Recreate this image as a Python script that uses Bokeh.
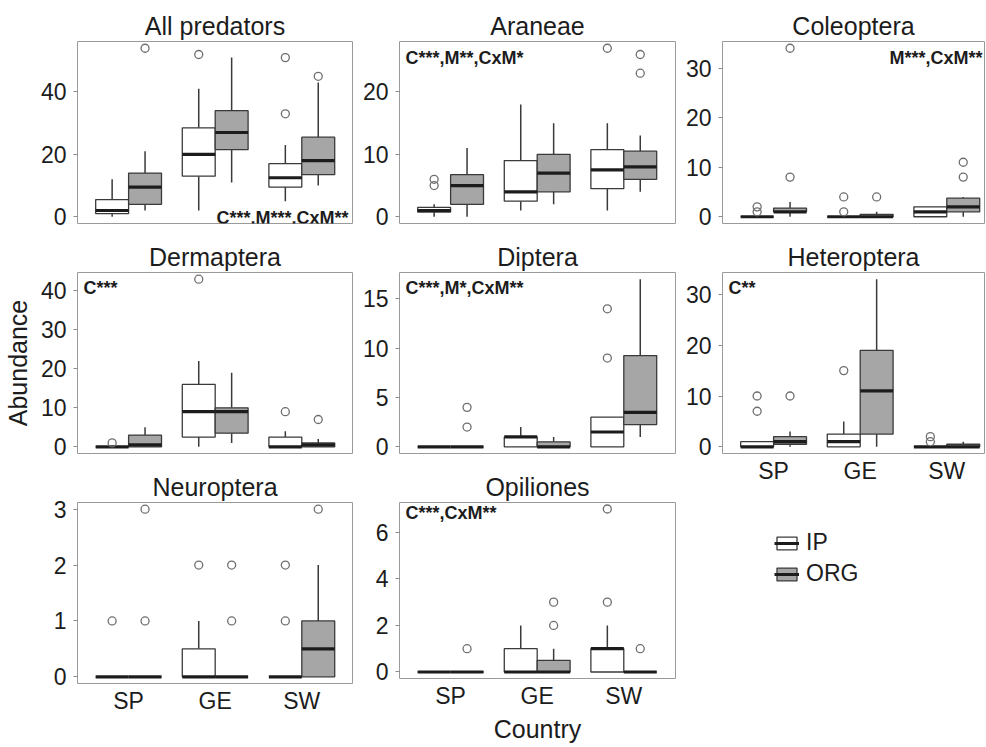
from bokeh.plotting import figure
from bokeh.models import ColumnDataSource, Range1d, FixedTicker, Label, Legend, LegendItem
from bokeh.layouts import row, column
from bokeh.embed import file_html
from bokeh.resources import INLINE

# ---------------- data ----------------
countries = ["SP", "GE", "SW"]
treatments = ["IP", "ORG"]
treatment_colors = ["#ffffff", "#a6a6a6"]
# order of boxes: SP-IP, SP-ORG, GE-IP, GE-ORG, SW-IP, SW-ORG

allpred_lo = [0, 2, 2, 11, 5, 10]
allpred_q1 = [1, 4, 13, 21.5, 9.5, 13.5]
allpred_med = [2, 9.5, 20, 27, 12.5, 18]
allpred_q3 = [5.5, 14, 28.5, 34, 17, 25.5]
allpred_hi = [12, 21, 41, 51, 23, 43]
allpred_out = [[], [54], [52], [], [51, 33], [45]]

aran_lo = [0, 0, 1, 2, 1, 4]
aran_q1 = [0.75, 2, 2.5, 4, 4.5, 6]
aran_med = [1, 5, 4, 7, 7.5, 8]
aran_q3 = [1.5, 6.75, 9, 10, 10.75, 10.5]
aran_hi = [2, 11, 18, 15, 15, 13]
aran_out = [[5, 6], [], [], [], [27], [26, 23]]

coleo_lo = [0, 0, 0, 0, 0, 0]
coleo_q1 = [0, 1, 0, 0, 0, 1]
coleo_med = [0, 1, 0, 0, 1, 2]
coleo_q3 = [0, 1.75, 0, 0.5, 2, 3.75]
coleo_hi = [0, 3, 0, 1, 2, 4]
coleo_out = [[1, 2], [8, 34], [1, 4], [4], [], [8, 11]]

derm_lo = [0, 0, 0, 1, 0, 0]
derm_q1 = [0, 0, 2.5, 3.5, 0, 0]
derm_med = [0, 0.5, 9, 9, 0, 0.5]
derm_q3 = [0, 3, 16, 10, 2.5, 1]
derm_hi = [0, 5, 22, 19, 4, 2]
derm_out = [[1], [], [43], [], [9], [7]]

dipt_lo = [0, 0, 0, 0, 0, 1]
dipt_q1 = [0, 0, 0, 0, 0, 2.25]
dipt_med = [0, 0, 1, 0, 1.5, 3.5]
dipt_q3 = [0, 0, 1, 0.5, 3, 9.25]
dipt_hi = [0, 0, 2, 1, 3, 17]
dipt_out = [[], [2, 4], [], [], [9, 14], []]

hete_lo = [0, 0, 0, 0, 0, 0]
hete_q1 = [0, 0.5, 0, 2.5, 0, 0]
hete_med = [0, 1, 1, 11, 0, 0]
hete_q3 = [1, 2, 2.5, 19, 0, 0.5]
hete_hi = [1, 3, 5, 33, 0, 1]
hete_out = [[7, 10], [10], [15], [], [1, 2], []]

neur_lo = [0, 0, 0, 0, 0, 0]
neur_q1 = [0, 0, 0, 0, 0, 0]
neur_med = [0, 0, 0, 0, 0, 0.5]
neur_q3 = [0, 0, 0.5, 0, 0, 1]
neur_hi = [0, 0, 1, 0, 0, 2]
neur_out = [[1], [1, 3], [2], [1, 2], [1, 2], [3]]

opil_lo = [0, 0, 0, 0, 0, 0]
opil_q1 = [0, 0, 0, 0, 0, 0]
opil_med = [0, 0, 0, 0, 1, 0]
opil_q3 = [0, 0, 1, 0.5, 1, 0]
opil_hi = [0, 0, 2, 1, 2, 0]
opil_out = [[], [1], [], [2, 3], [3, 7], [1]]

panels = {
    "allpred": dict(title="All predators", lo=allpred_lo, q1=allpred_q1, med=allpred_med, q3=allpred_q3,
                    hi=allpred_hi, out=allpred_out, ticks=[0, 20, 40], note="C***,M***,CxM**", pos="br"),
    "aran": dict(title="Araneae", lo=aran_lo, q1=aran_q1, med=aran_med, q3=aran_q3,
                 hi=aran_hi, out=aran_out, ticks=[0, 10, 20], note="C***,M**,CxM*", pos="tl"),
    "coleo": dict(title="Coleoptera", lo=coleo_lo, q1=coleo_q1, med=coleo_med, q3=coleo_q3,
                  hi=coleo_hi, out=coleo_out, ticks=[0, 10, 20, 30], note="M***,CxM**", pos="tr"),
    "derm": dict(title="Dermaptera", lo=derm_lo, q1=derm_q1, med=derm_med, q3=derm_q3,
                 hi=derm_hi, out=derm_out, ticks=[0, 10, 20, 30, 40], note="C***", pos="tl"),
    "dipt": dict(title="Diptera", lo=dipt_lo, q1=dipt_q1, med=dipt_med, q3=dipt_q3,
                 hi=dipt_hi, out=dipt_out, ticks=[0, 5, 10, 15], note="C***,M*,CxM**", pos="tl"),
    "hete": dict(title="Heteroptera", lo=hete_lo, q1=hete_q1, med=hete_med, q3=hete_q3,
                 hi=hete_hi, out=hete_out, ticks=[0, 10, 20, 30], note="C**", pos="tl"),
    "neur": dict(title="Neuroptera", lo=neur_lo, q1=neur_q1, med=neur_med, q3=neur_q3,
                 hi=neur_hi, out=neur_out, ticks=[0, 1, 2, 3], note=None, pos=None),
    "opil": dict(title="Opiliones", lo=opil_lo, q1=opil_q1, med=opil_med, q3=opil_q3,
                 hi=opil_hi, out=opil_out, ticks=[0, 2, 4, 6], note="C***,CxM**", pos="tl"),
}

# ---------------- style ----------------
FONT = "Liberation Sans"
TXT = "#1c1c1c"
BOXLINE = "#3a3a3a"
MEDLINE = "#1c1c1c"
FRAME_H = 182
BOX_W = 0.38
X_START = 0.41
PX_PER_UNIT = 86.6


def make_panel(spec, left, right, top, bottom, frame_w, show_x=False, xlabel=None, ylabel=None):
    xs, fills = [], []
    for ci in range(len(countries)):
        for ti in range(len(treatments)):
            xs.append(ci + 1 + (ti - 0.5) * BOX_W)
            fills.append(treatment_colors[ti])
    src = ColumnDataSource(dict(
        x=xs, left=[x - BOX_W / 2 for x in xs], right=[x + BOX_W / 2 for x in xs],
        lo=spec["lo"], q1=spec["q1"], med=spec["med"], q3=spec["q3"], hi=spec["hi"], fill=fills))
    ox, oy = [], []
    for x, outs in zip(xs, spec["out"]):
        for v in outs:
            ox.append(x)
            oy.append(v)
    ymax = max(spec["hi"] + oy)
    ymin = min(spec["lo"])
    span = ymax - ymin
    p = figure(width=left + frame_w + right, height=top + FRAME_H + bottom,
               x_range=Range1d(X_START, X_START + frame_w / PX_PER_UNIT),
               y_range=Range1d(ymin - 0.04 * span, ymax + 0.04 * span),
               output_backend="svg", toolbar_location=None,
               x_axis_location="below" if show_x else None,
               min_border_left=left, min_border_right=right,
               min_border_top=top, min_border_bottom=bottom,
               title=spec["title"])
    p.grid.visible = False
    p.outline_line_color = "#9a9a9a"
    p.outline_line_width = 1
    p.background_fill_color = "white"
    p.border_fill_color = "white"
    p.title.text_font = FONT
    p.title.text_font_size = "25px"
    p.title.text_font_style = "normal"
    p.title.text_color = TXT
    p.title.align = "center"
    p.title.standoff = 4

    p.segment(x0="x", y0="q3", x1="x", y1="hi", source=src, line_color=BOXLINE, line_width=1.5)
    p.segment(x0="x", y0="q1", x1="x", y1="lo", source=src, line_color=BOXLINE, line_width=1.5)
    p.quad(left="left", right="right", bottom="q1", top="q3", source=src,
           fill_color="fill", line_color=BOXLINE, line_width=1.3)
    p.segment(x0="left", y0="med", x1="right", y1="med", source=src,
              line_color=MEDLINE, line_width=3.2, line_cap="butt")
    p.scatter(ox, oy, marker="circle", size=8, fill_color=None, line_color="#6e6e6e", line_width=1.3)

    ya = p.yaxis[0]
    ya.ticker = FixedTicker(ticks=spec["ticks"])
    ya.axis_line_color = None
    ya.major_tick_out = 4
    ya.major_tick_in = 0
    ya.major_tick_line_color = "#8c8c8c"
    ya.minor_tick_line_color = None
    ya.major_label_text_font = FONT
    ya.major_label_text_font_size = "23px"
    ya.major_label_text_color = TXT
    ya.major_label_standoff = 7
    if ylabel:
        ya.axis_label = ylabel
        ya.axis_label_text_font = FONT
        ya.axis_label_text_font_size = "25px"
        ya.axis_label_text_font_style = "normal"
        ya.axis_label_text_color = TXT
        ya.axis_label_standoff = 6
    if show_x:
        xa = p.xaxis[0]
        xa.ticker = FixedTicker(ticks=[i + 1 for i in range(len(countries))])
        xa.major_label_overrides = {i + 1: c for i, c in enumerate(countries)}
        xa.axis_line_color = None
        xa.major_tick_line_color = None
        xa.major_tick_out = 0
        xa.major_tick_in = 0
        xa.minor_tick_line_color = None
        xa.major_label_text_font = FONT
        xa.major_label_text_font_size = "23px"
        xa.major_label_text_color = TXT
        xa.major_label_standoff = 4
        if xlabel:
            xa.axis_label = xlabel
            xa.axis_label_text_font = FONT
            xa.axis_label_text_font_size = "25px"
            xa.axis_label_text_font_style = "normal"
            xa.axis_label_text_color = TXT
            xa.axis_label_standoff = 3

    if spec["note"]:
        pos = spec["pos"]
        if pos == "tl":
            kw = dict(x=6, y=FRAME_H - 6, text_align="left", text_baseline="top")
        elif pos == "tr":
            kw = dict(x=frame_w - 2, y=FRAME_H - 6, text_align="right", text_baseline="top")
        else:
            kw = dict(x=frame_w - 4, y=6, text_align="right", text_baseline="alphabetic")
        p.add_layout(Label(text=spec["note"], x_units="screen", y_units="screen",
                           text_font=FONT, text_font_style="bold", text_font_size="18px",
                           text_color=TXT, **kw))
    return p


# columns: frame widths / borders (page has no margin)
C1 = dict(left=77, right=7, frame_w=275)
C2 = dict(left=40, right=7, frame_w=276)
C3 = dict(left=40, right=1, frame_w=262)

f1 = make_panel(panels["allpred"], top=41, bottom=15, **C1)
f4 = make_panel(panels["derm"], top=33, bottom=15, ylabel="Abundance", **C1)
f7 = make_panel(panels["neur"], top=33, bottom=62, show_x=True, **C1)

f2 = make_panel(panels["aran"], top=41, bottom=15, **C2)
f5 = make_panel(panels["dipt"], top=33, bottom=15, **C2)
f8 = make_panel(panels["opil"], top=33, bottom=62, show_x=True, xlabel="Country", **C2)

f3 = make_panel(panels["coleo"], top=41, bottom=15, **C3)
f6 = make_panel(panels["hete"], top=33, bottom=48, show_x=True, **C3)

# legend panel
LG_H = 244
lg = figure(width=303, height=LG_H, x_range=Range1d(0, 1), y_range=Range1d(0, 1),
            x_axis_location=None, y_axis_location=None, toolbar_location=None,
            output_backend="svg", min_border_left=40, min_border_right=1,
            min_border_top=0, min_border_bottom=0)
lg.grid.visible = False
lg.outline_line_color = None
items = []
for t, c in zip(treatments, treatment_colors):
    rb = lg.quad(left=[0], right=[0], top=[0], bottom=[0], fill_color=c,
                 line_color=BOXLINE, line_width=1.3, visible=False)
    rm = lg.segment(x0=[0], y0=[0], x1=[0], y1=[0], line_color=MEDLINE,
                    line_width=3, visible=False)
    items.append(LegendItem(label=t, renderers=[rb, rm]))
legend = Legend(items=items, location=(52, LG_H - 86), glyph_width=25, glyph_height=16,
                label_standoff=7, label_text_font=FONT, label_text_font_size="23px",
                label_text_color=TXT, spacing=4, padding=0, margin=0,
                border_line_color=None, background_fill_alpha=0, label_height=16)
lg.add_layout(legend)

layout = row(column(f1, f4, f7), column(f2, f5, f8), column(f3, f6, lg))

open("out.html", "w").write(file_html(layout, INLINE))
